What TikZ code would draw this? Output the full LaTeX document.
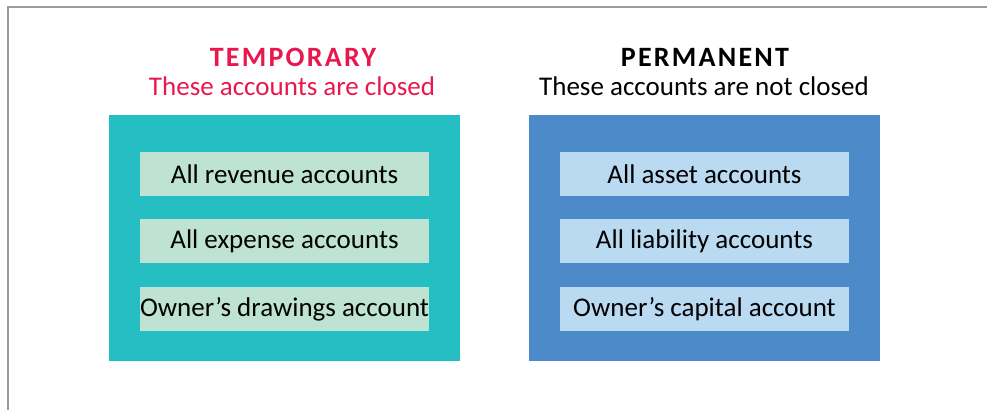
\documentclass[tikz,border=0pt]{standalone}
\usepackage{fontspec}
\setmainfont{Carlito}
\usepackage{xcolor}
\usetikzlibrary{positioning}

\definecolor{tealbg}{HTML}{25BEC2}
\definecolor{tealitem}{HTML}{BEE3D3}
\definecolor{bluebg}{HTML}{4C8AC9}
\definecolor{blueitem}{HTML}{BADAF2}
\definecolor{tempred}{HTML}{E8184E}
\definecolor{framegray}{HTML}{9A9AA0}

\begin{document}
\begin{tikzpicture}[
    x=1pt, y=-1pt,
    group/.style={rectangle, inner sep=0pt, minimum width=351pt, minimum height=246pt},
    item/.style={rectangle, inner sep=0pt, minimum width=289pt, minimum height=44pt, font=\fontsize{27}{30}\selectfont, text=black},
    heading/.style={font=\fontsize{28}{31}\selectfont\bfseries\addfontfeature{LetterSpace=8}, inner sep=0pt},
    subheading/.style={font=\fontsize{27}{30}\selectfont, inner sep=0pt}
]
    \useasboundingbox (0,0) rectangle (987,410);
    \draw [framegray, line width=2pt] (8,410) -- (8,7) -- (987,7);

    % temporary accounts
    \node (temp) [group, fill=tealbg] at (284.5,238) {};
    \node (rev) [item, fill=tealitem, below=37pt of temp.north] {All revenue accounts};
    \node (expn) [item, fill=tealitem, below=23pt of rev] {All expense accounts};
    \node (draw) [item, fill=tealitem, below=23pt of expn] {Owner’s drawings account};
    \node (tempsub) [subheading, text=tempred] at (292,86) {These accounts are closed};
    \node (temphead) [heading, text=tempred] at (293,57) {TEMPORARY};

    % permanent accounts
    \node (perm) [group, fill=bluebg] at (704.5,238) {};
    \node (asset) [item, fill=blueitem, below=37pt of perm.north] {All asset accounts};
    \node (liab) [item, fill=blueitem, below=23pt of asset] {All liability accounts};
    \node (cap) [item, fill=blueitem, below=23pt of liab] {Owner’s capital account};
    \node (permsub) [subheading, text=black] at (704,86) {These accounts are not closed};
    \node (permhead) [heading, text=black] at (705,57) {PERMANENT};
\end{tikzpicture}
\end{document}
